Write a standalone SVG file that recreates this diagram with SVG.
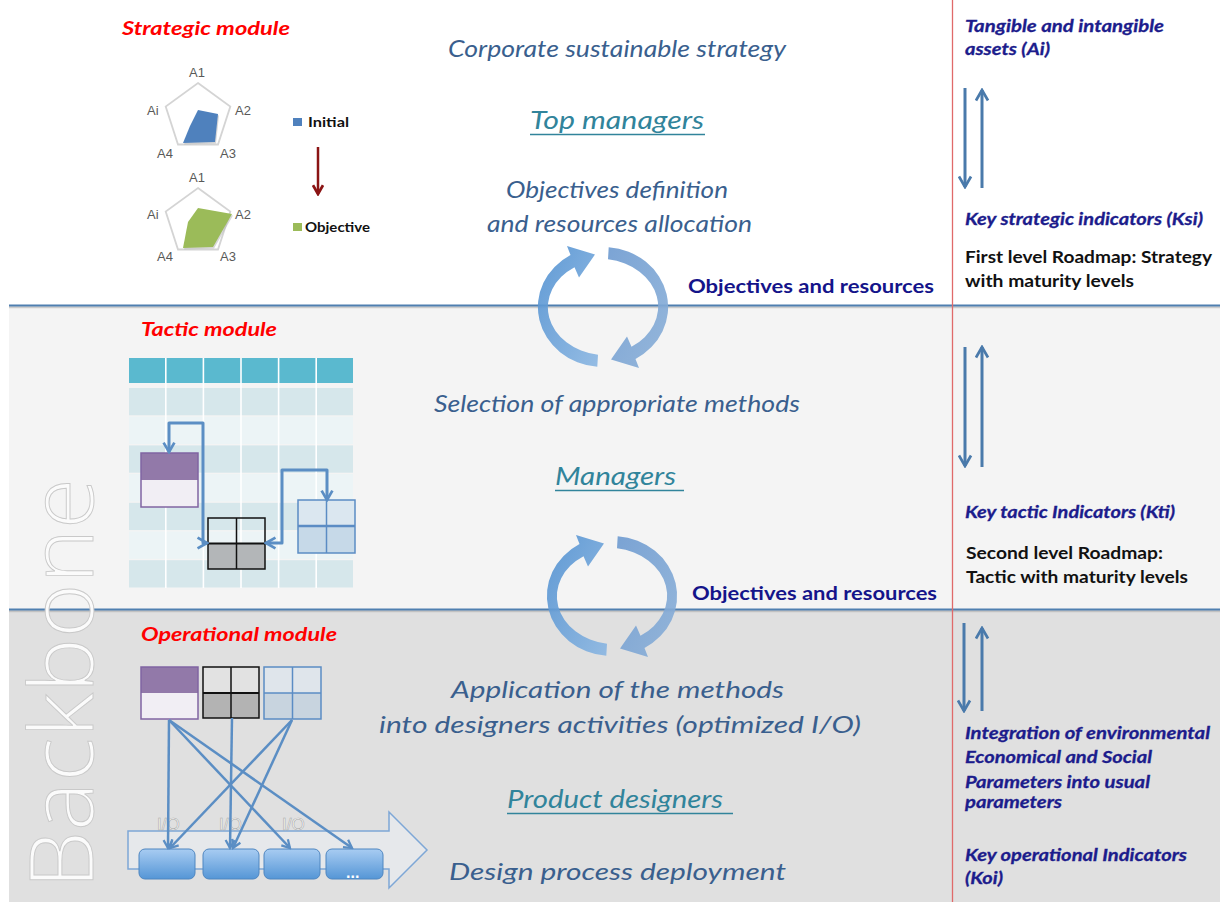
<svg xmlns="http://www.w3.org/2000/svg" width="1220" height="902" viewBox="0 0 1220 902">
<style>
.ctr{font-family:Lato,"Open Sans",sans-serif;font-style:italic;fill:#3a5f8e;font-size:23px}
.role{font-family:Lato,"Open Sans",sans-serif;font-style:italic;fill:#31849b;font-size:26px}
.ul{stroke:#31849b;stroke-width:1.6}
.mod{font-family:Lato,"Open Sans",sans-serif;font-style:italic;font-weight:bold;fill:#ff0000;font-size:19px}
.obj{font-family:Lato,"Open Sans",sans-serif;font-weight:bold;fill:#14148a;font-size:19px}
.ind{font-family:Lato,"Open Sans",sans-serif;font-style:italic;font-weight:bold;fill:#1c1c8c;font-size:17.5px;stroke:#1c1c8c;stroke-width:0.3}
.rm{font-family:Lato,"Open Sans",sans-serif;font-weight:bold;fill:#111111;font-size:17px}
.ax{font-family:"Liberation Sans",Arial,sans-serif;fill:#595959;font-size:13px}
.leg{font-family:Lato,"Open Sans",sans-serif;font-weight:bold;fill:#111111;font-size:14px}
.io{font-family:"Liberation Sans",Arial,sans-serif;fill:#ffffff;stroke:#a8a8a8;stroke-width:0.6;font-size:17px}
.conn{fill:none;stroke:#5b8ec4;stroke-width:3;stroke-linejoin:round}
.oline{fill:none;stroke:#5b8ec4;stroke-width:2.5}
.rarr{fill:none;stroke:#4a7aab;stroke-width:3}
.pent{fill:none;stroke:#d4d4d4;stroke-width:1.8}
.white-gap{stroke:#ffffff;stroke-width:1.6}
</style>
<defs>
<marker id="chev" viewBox="0 0 10 10" refX="8.5" refY="5" markerWidth="4.5" markerHeight="4.5" orient="auto-start-reverse" markerUnits="strokeWidth">
<path d="M1.5,1 L8.5,5 L1.5,9" fill="none" stroke="#5b8ec4" stroke-width="2"/>
</marker>
<marker id="chevR" viewBox="0 0 10 10" refX="8.5" refY="5" markerWidth="5" markerHeight="5" orient="auto" markerUnits="strokeWidth">
<path d="M1.5,1 L8.5,5 L1.5,9" fill="none" stroke="#4a7aab" stroke-width="1.8"/>
</marker>
<marker id="chevD" viewBox="0 0 10 10" refX="8.5" refY="5" markerWidth="5" markerHeight="5" orient="auto" markerUnits="strokeWidth">
<path d="M1.5,1 L8.5,5 L1.5,9" fill="none" stroke="#8b1414" stroke-width="2.2"/>
</marker>
<linearGradient id="gL" x1="0" y1="0" x2="1" y2="1">
<stop offset="0" stop-color="#4f8fd0"/><stop offset="1" stop-color="#8ab6e2"/>
</linearGradient>
<linearGradient id="gR" x1="0" y1="0" x2="1" y2="1">
<stop offset="0" stop-color="#8bb0d8"/><stop offset="1" stop-color="#6d9ad0"/>
</linearGradient>
<linearGradient id="gBox" x1="0" y1="0" x2="0" y2="1">
<stop offset="0" stop-color="#a8ccf2"/><stop offset="1" stop-color="#5596d6"/>
</linearGradient>
<path id="cyc" d="M597.3,366.8 A65,60 0 0 1 570.5,255 L567,246 L595,254.5 L579,277.5 L574.5,267.2 A59,48 0 0 0 598,354.8 Z"/>
</defs>

<g id="background">
<rect x="0" y="0" width="1220" height="902" fill="#ffffff"/>
<rect x="9" y="305" width="1211" height="304" fill="#f4f4f4"/>
<rect x="9" y="609" width="1211" height="293" fill="#e0e0e0"/>
<line x1="9" y1="307.3" x2="1220" y2="307.3" stroke="#cccccc" stroke-width="2"/>
<line x1="9" y1="305.5" x2="1220" y2="305.5" stroke="#4f7fb0" stroke-width="2"/>
<line x1="9" y1="611.3" x2="1220" y2="611.3" stroke="#c2c2c2" stroke-width="2"/>
<line x1="9" y1="609.5" x2="1220" y2="609.5" stroke="#4f7fb0" stroke-width="2"/>
<line x1="952.5" y1="0" x2="952.5" y2="902" stroke="#e06a6a" stroke-width="1.3"/>
</g>

<g id="backbone">
<text transform="translate(93,889) rotate(-90)" x="0" y="0" font-family="'Open Sans',Lato,sans-serif" font-weight="300" font-size="88" textLength="411" lengthAdjust="spacingAndGlyphs" fill="#fbfbfb" stroke="#c9c9c9" stroke-width="0.9">Backbone</text>
</g>

<g id="strategic-module">
<text class="mod" x="122" y="35" textLength="168" lengthAdjust="spacingAndGlyphs">Strategic module</text>
<polygon class="pent" points="198,83 230.3,106.5 218,144.5 178,144.5 165.7,106.5"/>
<polygon points="199,111.5 219,115.5 216,143.5 184,144.5 191,127.5" fill="#bdbdbd" opacity="0.6"/>
<polygon points="198,110 218,114 215,142 183,143 190,126" fill="#4f81bd"/>
<text class="ax" x="189" y="77">A1</text>
<text class="ax" x="235" y="115">A2</text>
<text class="ax" x="220" y="158">A3</text>
<text class="ax" x="157" y="158">A4</text>
<text class="ax" x="147" y="115">Ai</text>
<polygon class="pent" points="198,188 230.3,211.5 218,249.5 178,249.5 165.7,211.5"/>
<polygon points="199,209.5 233,215.5 214,248.5 184,249.5 189,223.5" fill="#bdbdbd" opacity="0.6"/>
<polygon points="198,208 232,214 213,247 183,248 188,222" fill="#9bbb59"/>
<text class="ax" x="189" y="182">A1</text>
<text class="ax" x="235" y="219">A2</text>
<text class="ax" x="220" y="261">A3</text>
<text class="ax" x="157" y="261">A4</text>
<text class="ax" x="147" y="219">Ai</text>
<rect x="293" y="118" width="9" height="8" fill="#4f81bd"/>
<text class="leg" x="308" y="127" textLength="41" lengthAdjust="spacingAndGlyphs">Initial</text>
<rect x="293" y="223" width="9" height="8" fill="#9bbb59"/>
<text class="leg" x="305" y="232" textLength="65" lengthAdjust="spacingAndGlyphs">Objective</text>
</g>

<g id="tactic-module">
<text class="mod" x="141" y="336" textLength="136" lengthAdjust="spacingAndGlyphs">Tactic module</text>
<rect x="129" y="358" width="224" height="25" fill="#5ab9cf"/>
<rect x="129" y="388" width="224" height="27.3" fill="#d6e7eb"/>
<rect x="129" y="416.7" width="224" height="27.3" fill="#ecf4f6"/>
<rect x="129" y="445.4" width="224" height="27.3" fill="#d6e7eb"/>
<rect x="129" y="474.1" width="224" height="27.3" fill="#ecf4f6"/>
<rect x="129" y="502.8" width="224" height="27.3" fill="#d6e7eb"/>
<rect x="129" y="531.5" width="224" height="27.3" fill="#ecf4f6"/>
<rect x="129" y="560.2" width="224" height="27.3" fill="#d6e7eb"/>
<g class="white-gap">
<line x1="165.8" y1="358" x2="165.8" y2="588"/>
<line x1="203.4" y1="358" x2="203.4" y2="588"/>
<line x1="241" y1="358" x2="241" y2="588"/>
<line x1="278.6" y1="358" x2="278.6" y2="588"/>
<line x1="316.2" y1="358" x2="316.2" y2="588"/>
</g>
<g id="t-purple">
<rect x="141" y="453" width="57" height="27" fill="#9279a9"/>
<rect x="141" y="480" width="57" height="27" fill="#f1eef4"/>
<rect x="141" y="453" width="57" height="54" fill="none" stroke="#8064a2" stroke-width="1.5"/>
</g>
<g id="t-black">
<rect x="208" y="543.5" width="57" height="25.5" fill="#b3b6b8"/>
<rect x="208" y="518" width="57" height="51" fill="none" stroke="#111111" stroke-width="1.5"/>
<line x1="236.5" y1="518" x2="236.5" y2="569" stroke="#111111" stroke-width="1.5"/>
<line x1="208" y1="543.5" x2="265" y2="543.5" stroke="#111111" stroke-width="2.2"/>
</g>
<g id="t-blue">
<rect x="298" y="500" width="57" height="26" fill="#dbe7f0"/>
<rect x="298" y="526" width="57" height="27" fill="#c6d9e8"/>
<rect x="298" y="500" width="57" height="53" fill="none" stroke="#5b8cc4" stroke-width="1.5"/>
<line x1="326.5" y1="500" x2="326.5" y2="553" stroke="#5b8cc4" stroke-width="1.5"/>
<line x1="298" y1="526" x2="355" y2="526" stroke="#5b8cc4" stroke-width="2.5"/>
</g>
</g>

<g id="operational-module">
<text class="mod" x="141" y="641" textLength="196" lengthAdjust="spacingAndGlyphs">Operational module</text>
<g id="o-purple">
<rect x="141" y="667" width="57" height="26" fill="#9279a9"/>
<rect x="141" y="693" width="57" height="26" fill="#f1eef4"/>
<rect x="141" y="667" width="57" height="52" fill="none" stroke="#8064a2" stroke-width="1.5"/>
</g>
<g id="o-black">
<rect x="203" y="667" width="56" height="26" fill="#e2e2e2"/>
<rect x="203" y="693" width="56" height="25" fill="#b3b3b3"/>
<rect x="203" y="667" width="56" height="51" fill="none" stroke="#111111" stroke-width="1.5"/>
<line x1="231" y1="667" x2="231" y2="718" stroke="#111111" stroke-width="1.5"/>
<line x1="203" y1="693" x2="259" y2="693" stroke="#111111" stroke-width="2.2"/>
</g>
<g id="o-blue">
<rect x="264" y="667" width="57" height="26" fill="#dfe5eb"/>
<rect x="264" y="693" width="57" height="26" fill="#c8d4df"/>
<rect x="264" y="667" width="57" height="52" fill="none" stroke="#5b8cc4" stroke-width="1.5"/>
<line x1="292.5" y1="667" x2="292.5" y2="719" stroke="#5b8cc4" stroke-width="1.5"/>
<line x1="264" y1="693" x2="321" y2="693" stroke="#5b8cc4" stroke-width="1.5"/>
</g>
<g id="process-arrow">
<path d="M128,831 L389,831 L389,812 L427,850 L389,888 L389,869 L128,869 Z" fill="#e6e8eb" stroke="#7ea7d6" stroke-width="1.5"/>
</g>
<g id="steps">
<rect x="139" y="849" width="56" height="30" rx="6" fill="url(#gBox)" stroke="#4f86c0" stroke-width="1"/>
<rect x="203" y="849" width="56" height="30" rx="6" fill="url(#gBox)" stroke="#4f86c0" stroke-width="1"/>
<rect x="264" y="849" width="56" height="30" rx="6" fill="url(#gBox)" stroke="#4f86c0" stroke-width="1"/>
<rect x="326" y="849" width="57" height="30" rx="6" fill="url(#gBox)" stroke="#4f86c0" stroke-width="1"/>
<text x="346" y="878" font-family="'Liberation Sans',Arial,sans-serif" font-weight="bold" font-size="16" fill="#ffffff">...</text>
</g>
<text class="io" x="157" y="830">I/O</text>
<text class="io" x="219" y="830">I/O</text>
<text class="io" x="282" y="830">I/O</text>
</g>

<g id="center-texts">
<text class="ctr" x="448" y="57" textLength="338" lengthAdjust="spacingAndGlyphs">Corporate sustainable strategy</text>
<text class="role" x="530" y="129" textLength="174" lengthAdjust="spacingAndGlyphs">Top managers</text>
<line class="ul" x1="530" y1="134.5" x2="705" y2="134.5"/>
<text class="ctr" x="506" y="198" textLength="222" lengthAdjust="spacingAndGlyphs">Objectives definition</text>
<text class="ctr" x="487" y="232" textLength="265" lengthAdjust="spacingAndGlyphs">and resources allocation</text>
<text class="ctr" x="434" y="412" textLength="366" lengthAdjust="spacingAndGlyphs">Selection of appropriate methods</text>
<text class="role" x="555" y="485" textLength="121" lengthAdjust="spacingAndGlyphs">Managers</text>
<line class="ul" x1="555" y1="490.5" x2="684" y2="490.5"/>
<text class="ctr" x="451" y="698" textLength="333" lengthAdjust="spacingAndGlyphs" font-size="25">Application of the methods</text>
<text class="ctr" x="379" y="733" textLength="482" lengthAdjust="spacingAndGlyphs" font-size="25">into designers activities (optimized I/O)</text>
<text class="role" x="507" y="808" textLength="216" lengthAdjust="spacingAndGlyphs" font-size="25">Product designers</text>
<line class="ul" x1="507" y1="813.5" x2="733" y2="813.5"/>
<text class="ctr" x="449" y="880" textLength="337" lengthAdjust="spacingAndGlyphs" font-size="25">Design process deployment</text>
<text class="obj" x="688" y="293" textLength="246" lengthAdjust="spacingAndGlyphs">Objectives and resources</text>
<text class="obj" x="692" y="600" textLength="245" lengthAdjust="spacingAndGlyphs">Objectives and resources</text>
</g>

<g id="right-column">
<text class="ind" x="965" y="32" textLength="199" lengthAdjust="spacingAndGlyphs">Tangible and intangible</text>
<text class="ind" x="965" y="55" textLength="85" lengthAdjust="spacingAndGlyphs">assets (Ai)</text>
<text class="ind" x="965" y="225" textLength="238" lengthAdjust="spacingAndGlyphs">Key strategic indicators (Ksi)</text>
<text class="rm" x="965" y="263" textLength="247" lengthAdjust="spacingAndGlyphs">First level Roadmap: Strategy</text>
<text class="rm" x="965" y="287" textLength="169" lengthAdjust="spacingAndGlyphs">with maturity levels</text>
<text class="ind" x="965" y="518" textLength="210" lengthAdjust="spacingAndGlyphs">Key tactic Indicators (Kti)</text>
<text class="rm" x="966" y="559" textLength="197" lengthAdjust="spacingAndGlyphs">Second level Roadmap:</text>
<text class="rm" x="966" y="583" textLength="222" lengthAdjust="spacingAndGlyphs">Tactic with maturity levels</text>
<text class="ind" x="965" y="739" textLength="245" lengthAdjust="spacingAndGlyphs">Integration of environmental</text>
<text class="ind" x="965" y="763" textLength="187" lengthAdjust="spacingAndGlyphs">Economical and Social</text>
<text class="ind" x="965" y="788" textLength="185" lengthAdjust="spacingAndGlyphs">Parameters into usual</text>
<text class="ind" x="965" y="808" textLength="97" lengthAdjust="spacingAndGlyphs">parameters</text>
<text class="ind" x="965" y="861" textLength="222" lengthAdjust="spacingAndGlyphs">Key operational Indicators</text>
<text class="ind" x="965" y="884" textLength="38" lengthAdjust="spacingAndGlyphs">(Koi)</text>
</g>

<g id="connectors">
<g id="cycle-1" fill-opacity="0.9">
<use href="#cyc" fill="url(#gL)"/>
<use href="#cyc" fill="url(#gR)" transform="rotate(180 603 307)"/>
</g>
<g id="cycle-2" fill-opacity="0.9" transform="translate(9,289)">
<use href="#cyc" fill="url(#gL)"/>
<use href="#cyc" fill="url(#gR)" transform="rotate(180 603 307)"/>
</g>
<line x1="318" y1="147" x2="318" y2="194" stroke="#8b1414" stroke-width="2.5" marker-end="url(#chevD)"/>
<path class="conn" d="M169,452 L169,423 L203,423 L203,543 L207,543" marker-start="url(#chev)" marker-end="url(#chev)"/>
<path class="conn" d="M327,500 L327,470 L282,470 L282,543 L266,543" marker-start="url(#chev)" marker-end="url(#chev)"/>
<line class="oline" x1="169" y1="720" x2="168" y2="848" marker-end="url(#chev)"/>
<line class="oline" x1="169" y1="720" x2="290" y2="848" marker-end="url(#chev)"/>
<line class="oline" x1="169" y1="720" x2="352" y2="848" marker-end="url(#chev)"/>
<line class="oline" x1="232" y1="718" x2="230" y2="848" marker-end="url(#chev)"/>
<line class="oline" x1="292" y1="720" x2="170" y2="848" marker-end="url(#chev)"/>
<line class="oline" x1="292" y1="720" x2="233" y2="848" marker-end="url(#chev)"/>
<line class="rarr" x1="965" y1="88" x2="965" y2="187" marker-end="url(#chevR)"/>
<line class="rarr" x1="982" y1="188" x2="982" y2="90" marker-end="url(#chevR)"/>
<line class="rarr" x1="965" y1="347" x2="965" y2="466" marker-end="url(#chevR)"/>
<line class="rarr" x1="982" y1="467" x2="982" y2="347" marker-end="url(#chevR)"/>
<line class="rarr" x1="964" y1="623" x2="964" y2="711" marker-end="url(#chevR)"/>
<line class="rarr" x1="982" y1="711" x2="982" y2="628" marker-end="url(#chevR)"/>
</g>
</svg>
